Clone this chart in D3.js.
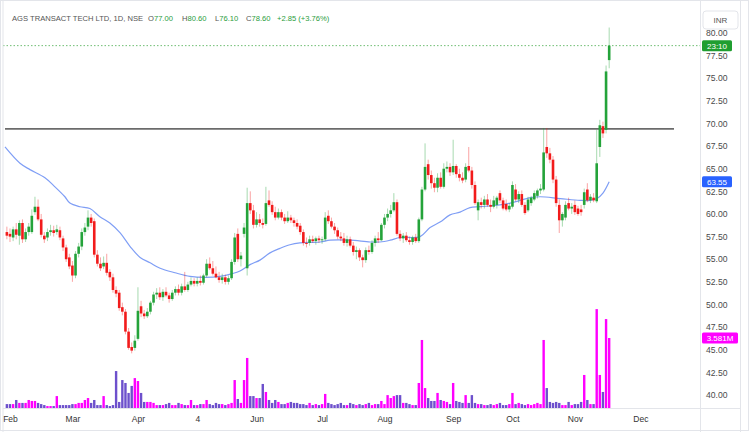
<!DOCTYPE html>
<html><head><meta charset="utf-8">
<script src="https://cdn.jsdelivr.net/npm/d3@7"></script>
<style>
html,body{margin:0;padding:0;background:#fff}
svg{display:block}
text{font-family:"Liberation Sans",Arial,sans-serif}
</style>
</head><body><div id="chart"></div>
<script>
// ---- data (one bar per trading day, Jan 31 .. mid Nov) ----
const opens=[
58.0,57.8,57.4,58.3,57.6,59.0,57.2,58.0,58.0,60.2,
60.8,59.4,57.6,57.4,58.0,58.2,58.0,58.2,57.3,56.3,
55.2,54.3,53.2,55.6,56.4,58.0,58.6,59.6,59.2,55.5,
54.5,54.2,54.6,53.6,53.0,51.6,51.3,49.7,49.2,47.0,
45.3,45.2,46.2,49.8,49.0,48.7,49.2,50.2,51.1,51.3,
50.8,51.4,51.0,50.6,51.3,51.7,51.3,52.0,51.6,52.2,
52.6,52.3,52.6,52.4,53.2,54.5,54.0,53.4,53.0,52.7,
53.0,52.5,52.9,54.7,57.8,55.0,57.8,54.0,61.2,60.4,
58.8,59.4,59.0,58.9,61.5,61.0,60.2,59.6,60.2,59.6,
59.2,59.6,59.3,59.0,58.7,58.0,56.8,56.8,57.2,57.0,
57.3,57.1,57.2,59.8,59.2,58.6,58.2,57.5,57.3,56.8,
57.2,56.5,55.8,56.0,55.2,54.9,56.0,55.8,56.8,57.3,
57.1,58.8,59.6,60.0,60.4,61.3,57.8,57.3,57.6,57.1,
56.9,57.4,57.0,59.4,62.7,65.5,64.3,63.4,62.9,64.0,
63.0,65.0,65.2,64.6,65.3,64.4,64.0,63.8,65.3,64.8,
63.2,60.4,61.3,61.0,61.6,61.0,60.8,61.0,62.3,61.5,
61.1,60.5,60.8,62.7,61.6,62.2,61.0,60.4,61.2,61.6,
62.0,62.6,62.7,67.4,66.7,66.0,63.8,61.0,59.3,59.6,
61.2,60.6,61.0,60.6,60.5,61.0,62.7,61.5,61.8,61.4,
67.4,69.7,69.3,77.0];
const highs=[
58.6,58.4,58.6,59.0,59.3,59.4,58.4,59.0,60.5,61.9,
61.6,60.0,58.0,58.4,58.8,58.7,58.8,58.6,57.6,56.6,
55.6,54.8,55.9,56.8,58.4,59.0,60.4,60.0,59.5,56.0,
55.2,55.3,55.6,53.9,53.4,52.0,51.6,50.2,49.5,47.4,
45.8,46.6,51.9,50.4,49.4,49.6,50.4,51.4,51.8,51.9,
51.7,51.9,51.3,51.6,52.0,52.2,52.3,53.6,52.5,53.0,
52.9,53.0,53.2,53.4,55.0,55.2,54.8,54.2,53.6,53.4,
53.3,53.2,55.0,57.9,58.4,55.8,59.0,62.9,62.5,61.0,
60.2,60.0,59.5,63.0,62.6,61.4,60.8,60.6,60.5,60.0,
60.3,59.9,59.6,59.4,59.0,58.3,57.4,57.6,57.6,57.5,
57.6,57.5,60.2,60.4,59.6,59.0,58.5,58.0,57.9,57.6,
57.5,56.9,56.4,56.2,55.5,56.3,56.5,57.1,57.6,58.0,
59.0,60.0,60.6,61.0,62.3,61.6,58.2,57.9,58.0,57.5,
57.6,57.8,59.6,63.0,67.8,66.0,64.8,64.0,64.5,64.6,
65.6,65.8,65.6,68.2,65.5,65.0,64.6,65.6,67.4,65.2,
63.6,61.6,61.8,62.0,62.2,61.6,62.0,62.0,62.6,61.8,
61.6,61.2,63.6,63.3,62.5,62.6,61.3,61.9,62.0,62.6,
62.8,63.3,69.5,69.5,67.3,66.4,64.2,61.6,60.2,61.4,
61.8,61.2,61.5,60.9,61.0,62.8,63.4,62.2,62.3,69.3,
70.4,70.2,76.4,80.6];
const lows=[
57.2,56.9,57.0,57.2,56.6,56.8,56.9,57.6,57.8,59.9,
59.2,57.4,56.8,57.0,57.6,57.5,57.7,57.1,55.9,54.7,
53.9,52.5,52.9,55.2,56.0,57.6,58.2,58.6,55.2,54.2,
53.7,53.9,53.2,52.6,51.3,50.8,49.3,48.8,46.7,45.0,
44.6,44.9,46.0,48.6,48.4,48.5,48.9,49.9,50.6,50.5,
50.4,50.8,50.2,50.4,51.0,51.0,51.0,51.4,51.4,52.0,
52.0,52.0,52.1,52.2,53.0,53.8,53.2,52.9,52.4,52.3,
52.2,52.2,52.7,54.4,54.7,54.2,57.4,53.2,60.0,58.4,
58.5,58.6,58.4,58.7,60.8,59.9,59.3,59.4,59.3,58.9,
59.0,59.0,58.6,58.3,57.7,56.5,56.3,56.5,56.8,56.6,
56.8,56.7,57.0,58.9,58.4,57.8,57.2,57.0,56.5,56.4,
56.3,55.4,55.0,54.8,54.1,54.6,55.5,55.6,56.4,56.8,
57.0,58.4,59.2,59.6,60.2,57.6,57.0,56.8,56.9,56.6,
56.6,56.8,56.8,59.2,62.5,63.8,62.8,62.4,62.4,62.8,
62.8,64.6,64.2,64.3,64.0,63.6,63.4,63.5,64.6,62.8,
61.0,59.3,60.6,60.6,60.8,60.2,60.6,60.6,61.2,60.4,
60.3,60.2,60.6,61.4,61.2,60.8,59.9,60.2,60.9,61.4,
61.7,62.2,62.5,66.2,65.6,63.4,60.8,57.9,58.6,59.3,
60.4,60.0,59.9,59.8,59.8,60.6,61.3,61.2,61.3,61.2,
66.3,68.4,68.9,76.1];
const closes=[
57.6,57.5,58.3,57.7,59.0,57.2,58.0,58.6,59.8,60.8,
59.4,57.7,57.2,58.0,58.2,57.9,58.3,57.4,56.3,55.0,
54.2,53.2,55.6,56.4,58.0,58.5,59.6,59.0,55.5,54.5,
54.0,54.6,53.5,53.0,51.6,51.2,49.6,49.2,47.0,45.2,
44.9,46.0,49.3,49.0,48.7,49.2,50.2,51.1,51.3,50.8,
51.4,51.0,50.6,51.3,51.7,51.3,52.0,51.6,52.2,52.6,
52.3,52.6,52.4,53.2,54.5,54.0,53.4,53.0,52.7,53.0,
52.5,52.9,54.7,57.4,55.0,55.4,58.5,61.2,60.4,58.8,
59.4,59.0,58.8,61.2,61.0,60.2,59.6,60.2,59.6,59.2,
59.6,59.3,59.0,58.6,58.0,56.8,56.7,57.2,57.0,57.3,
57.1,57.2,59.6,59.2,58.6,58.2,57.5,57.3,56.8,57.2,
56.5,55.8,56.0,55.2,54.9,56.0,55.8,56.8,57.3,57.1,
58.8,59.6,60.0,60.4,61.3,57.8,57.3,57.6,57.1,56.9,
57.4,57.0,59.4,62.7,65.2,64.3,63.4,62.9,64.0,63.0,
65.0,65.2,64.6,65.3,64.4,64.0,63.7,65.2,64.8,63.2,
61.2,61.3,61.0,61.6,61.0,60.8,61.5,61.8,61.5,60.6,
60.5,60.9,63.2,61.6,62.2,61.0,60.1,61.6,61.8,62.3,
62.6,62.8,66.8,66.7,66.0,63.8,61.2,59.3,60.0,61.0,
60.6,60.8,60.2,60.0,60.2,62.4,61.5,61.9,61.5,65.6,
69.8,68.9,75.75,78.6];
// volume in millions of shares
const volumes=[
0.20,0.20,0.20,0.41,0.26,0.26,0.26,0.41,0.36,0.36,
0.26,0.20,0.15,0.10,0.10,0.10,0.61,0.15,0.15,0.15,
0.15,0.20,0.20,0.26,0.26,0.41,0.51,0.26,0.41,0.15,
0.15,0.61,0.15,0.10,0.15,1.89,0.31,1.43,1.28,0.77,
1.13,1.53,1.38,0.77,0.31,0.31,0.31,0.26,0.15,0.15,
0.15,0.20,0.26,0.15,0.15,0.26,0.20,0.15,0.15,0.41,
0.15,0.15,0.20,0.20,0.41,0.20,0.15,0.26,0.20,0.20,
0.15,0.20,0.26,1.43,0.46,0.26,1.43,2.56,0.61,0.61,
0.51,0.51,1.23,0.82,0.41,0.26,0.41,0.31,0.20,0.20,
0.26,0.31,0.26,0.26,0.20,0.20,0.15,0.26,0.15,0.20,
0.15,0.20,0.72,0.26,0.20,0.15,0.20,0.26,0.15,0.15,
0.26,0.20,0.15,0.20,0.15,0.20,0.26,0.15,0.20,0.20,
0.36,0.20,0.66,0.51,0.61,0.66,0.66,0.26,0.26,0.20,
0.15,0.15,1.28,3.48,1.02,0.51,0.36,0.36,0.77,0.41,
0.36,0.31,0.20,1.28,0.36,0.31,0.26,0.66,0.26,0.66,
0.26,0.20,0.20,0.15,0.15,0.20,0.15,0.20,0.26,0.15,
0.15,0.20,0.77,0.20,0.26,0.20,0.15,0.20,0.15,0.20,
0.26,0.20,3.48,1.02,0.31,0.26,0.31,0.26,0.15,0.15,
0.31,0.15,0.20,0.20,0.31,1.69,0.41,0.20,0.20,5.06,
1.69,0.82,4.55,3.581];
// moving average (bar index, value)
const maIndex=[-0.6,4.2,7.4,12.2,15.4,18.6,20.2,23.4,26.6,29.8,33,36.3,39.5,42.7,45.9,49.1,53.9,58.7,63.5,68.3,72.2,74.7,77.9,81.1,84.3,87.5,90.7,93.9,100.4,103.6,110,116.4,119.6,122.8,126,132.4,135.6,138.8,142,145.2,148.4,151.6,158,161.3,164.5,167.7,170.9,177.3,183.7,186.9,189.1,191,193];
const maValue=[67.4,65.6,64.9,64.0,63.0,61.9,61.2,60.8,60.6,59.7,59.0,57.9,56.4,55.2,54.6,54.0,53.5,53.1,53.0,53.1,53.4,53.7,54.4,54.9,55.7,56.2,56.6,56.8,56.9,57.1,57.1,56.9,56.9,57.1,57.4,57.5,58.5,59.1,59.9,60.2,60.7,60.8,61.0,61.2,61.5,61.8,61.9,61.7,61.5,61.5,61.7,62.3,63.55];
const monthIndex=[1,21,42,61,80,101,121,143,162,182,203];
const monthLabels=["Feb","Mar","Apr","4","Jun","Jul","Aug","Sep","Oct","Nov","Dec"];
const priceTicks=d3.range(40,80.01,2.5);
const resistanceLevel=69.4;
const lastClose=78.6;
const maLast=63.55;
const lastVolume=3.581;
const titleText="AGS TRANSACT TECH LTD, 1D, NSE";
const ohlcLetters=["O","H","L","C"];
const ohlcValues=["77.00","80.60","76.10","78.60"];
const changeText="+2.85 (+3.76%)";

// ---- drawing ----
const W=750,H=432;
const P={l:3,r:700,t:3,b:408};
const UP="#24a33a",DOWN="#f21b1b",VUP="#ff00ff",VDOWN="#6d50cc";
const svg=d3.select("#chart").append("svg").attr("width",W).attr("height",H);
svg.append("rect").attr("width",W).attr("height",H).attr("fill","#fff");

const x=d3.scaleLinear().domain([-1.24,222.1]).range([P.l,P.r]);
const y=d3.scaleLinear().domain([38.56,83.31]).range([P.b,P.t]);
const yv=d3.scaleLinear().domain([0,lastVolume]).range([P.b,338]);

svg.append("defs").append("clipPath").attr("id","clip")
  .append("rect").attr("x",P.l).attr("y",P.t).attr("width",P.r-P.l).attr("height",P.b-P.t);

const bars=d3.range(opens.length).map(i=>({i,o:opens[i],h:highs[i],l:lows[i],c:closes[i],v:volumes[i]}));
const g=svg.append("g").attr("clip-path","url(#clip)");

// volume
g.append("g").selectAll("rect").data(bars).join("rect")
  .attr("x",d=>x(d.i)-1.2).attr("width",2.4)
  .attr("y",d=>yv(d.v)).attr("height",d=>P.b-yv(d.v))
  .attr("fill",d=>d.c>=d.o?VUP:VDOWN);

// resistance line
g.append("line").attr("x1",P.l+2).attr("x2",674)
  .attr("y1",y(resistanceLevel)).attr("y2",y(resistanceLevel))
  .attr("stroke","#6b6b6b").attr("stroke-width",1.6);

// last price dotted line
g.append("line").attr("x1",P.l).attr("x2",P.r)
  .attr("y1",y(lastClose)).attr("y2",y(lastClose))
  .attr("stroke","#4caf50").attr("stroke-width",1).attr("stroke-dasharray","1.5,2").attr("opacity",0.8);

// moving average
g.append("path").datum(maIndex.map((d,k)=>[d,maValue[k]]))
  .attr("fill","none").attr("stroke","#7f9ef5").attr("stroke-width",1.2)
  .attr("d",d3.line().x(d=>x(d[0])).y(d=>y(d[1])).curve(d3.curveCatmullRom.alpha(0.5)));

// candles
const cg=g.append("g");
cg.selectAll("line").data(bars).join("line")
  .attr("x1",d=>x(d.i)).attr("x2",d=>x(d.i))
  .attr("y1",d=>y(d.h)).attr("y2",d=>y(d.l))
  .attr("stroke",d=>d.c>=d.o?UP:DOWN).attr("stroke-width",1).attr("stroke-opacity",0.4);
cg.selectAll("rect").data(bars).join("rect")
  .attr("x",d=>x(d.i)-1.3).attr("width",2.6)
  .attr("y",d=>y(Math.max(d.o,d.c)))
  .attr("height",d=>Math.max(1,Math.abs(y(d.o)-y(d.c))))
  .attr("fill",d=>d.c>=d.o?UP:DOWN);

// frame
const frame=svg.append("g").attr("stroke","#e3e5ea").attr("stroke-width",1).attr("fill","none");
frame.append("rect").attr("x",0.5).attr("y",0.5).attr("width",W-2).attr("height",H-2);
frame.append("line").attr("x1",P.l).attr("x2",P.l).attr("y1",0).attr("y2",H);
frame.append("line").attr("x1",P.r+0.5).attr("x2",P.r+0.5).attr("y1",0).attr("y2",H);
frame.append("line").attr("x1",740.5).attr("x2",740.5).attr("y1",0).attr("y2",H);
frame.append("line").attr("x1",P.l).attr("x2",740.5).attr("y1",P.b+0.5).attr("y2",P.b+0.5);

// price axis
const ay=svg.append("g").attr("transform",`translate(${P.r},0)`)
  .call(d3.axisRight(y).tickValues(priceTicks).tickFormat(d3.format(".2f")).tickSize(0).tickPadding(6));
ay.select(".domain").remove();
ay.selectAll("text").attr("font-size",8.6).attr("fill","#4a4a4a").style("font-family","Liberation Sans, Arial, sans-serif");

// time axis
const ax=svg.append("g").attr("transform",`translate(0,${P.b})`)
  .call(d3.axisBottom(x).tickValues(monthIndex).tickFormat((d,k)=>monthLabels[k]).tickSize(0).tickPadding(8));
ax.select(".domain").remove();
ax.selectAll("text").attr("font-size",8.5).attr("fill","#333").style("font-family","Liberation Sans, Arial, sans-serif");

// INR box
svg.append("rect").attr("x",703).attr("y",11).attr("width",35).attr("height",18).attr("rx",3)
  .attr("fill","#fff").attr("stroke","#e3e5ea");
svg.append("text").attr("x",720.5).attr("y",23).attr("text-anchor","middle")
  .attr("font-size",8).attr("fill","#555").text("INR");

// axis value labels
function tag(v,scale,w,color,txt){
  const yy=scale(v);
  svg.append("rect").attr("x",702).attr("y",yy-5.5).attr("width",w).attr("height",11).attr("rx",1.5).attr("fill",color);
  svg.append("text").attr("x",702+w/2).attr("y",yy+3).attr("text-anchor","middle")
    .attr("font-size",8).attr("fill","#fff").text(txt);
}
tag(lastClose,y,30,"#1f9e30","23:10");
tag(maLast,y,30,"#2962ff",d3.format(".2f")(maLast));
tag(lastVolume,yv,36,"#ff00ff",d3.format(".3f")(lastVolume)+"M");

// header
const hdr=svg.append("text").attr("y",21).attr("font-size",7.6);
hdr.append("tspan").attr("x",12).attr("fill","#555").text(titleText);
const ohlcX=[148,182,215,246];
ohlcLetters.forEach((l,k)=>{
  hdr.append("tspan").attr("x",ohlcX[k]).attr("fill","#555").text(l);
  hdr.append("tspan").attr("fill","#2a9d3c").text(ohlcValues[k]);
});
hdr.append("tspan").attr("x",277).attr("fill","#2a9d3c").text(changeText);
</script>
</body></html>
